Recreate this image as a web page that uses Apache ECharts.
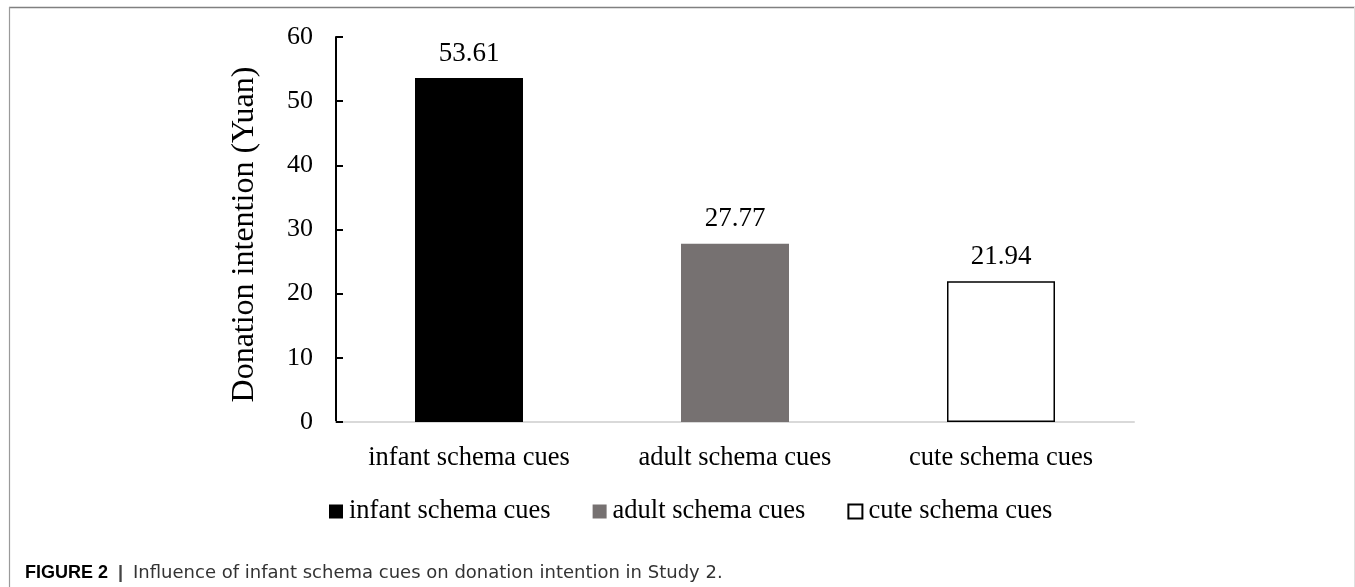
<!DOCTYPE html>
<html>
<head>
<meta charset="utf-8">
<script src="https://cdn.jsdelivr.net/npm/echarts@6/dist/echarts.min.js"></script>
<style>
html,body{margin:0;padding:0;background:#fff;}
#chart{width:1355px;height:587px;}
</style>
</head>
<body>
<div id="chart"></div>
<script>
var categories = ['infant schema cues', 'adult schema cues', 'cute schema cues'];
var seriesNames = ['infant schema cues', 'adult schema cues', 'cute schema cues'];
var values = [53.61, 27.77, 21.94];
var yTicks = {min: 0, max: 60, interval: 10};
var yTitle = 'Donation intention (Yuan)';
var captionBold = 'FIGURE 2';
var captionText = 'Influence of infant schema cues on donation intention in Study 2.';

var serif = '"Liberation Serif", "Times New Roman", serif';
var fills = ['#000000', '#767171', '#ffffff'];
var borders = [null, null, '#000000'];

var series = seriesNames.map(function (name, i) {
  var data = categories.map(function (c, j) { return j === i ? values[j] : '-'; });
  var itemStyle = {color: fills[i]};
  if (borders[i]) { itemStyle.borderColor = borders[i]; itemStyle.borderWidth = 1.5; }
  return {
    name: name,
    type: 'bar',
    data: data,
    barGap: '-100%',
    barCategoryGap: '59.4%',
    itemStyle: itemStyle,
    label: {
      show: true,
      position: 'top',
      distance: 11,
      color: '#000',
      fontFamily: serif,
      fontSize: 27,
      formatter: function (p) { return p.value.toFixed(2); }
    }
  };
});

var chart = echarts.init(document.getElementById('chart'), null, {renderer: 'canvas'});
chart.setOption({
  animation: false,
  backgroundColor: '#fff',
  grid: {left: 336, right: 221, top: 37, bottom: 165, containLabel: false},
  legend: {
    left: 329,
    top: 498,
    padding: 0,
    icon: 'rect',
    itemWidth: 14,
    itemHeight: 14,
    itemGap: 42,
    textStyle: {fontFamily: serif, fontSize: 26.5, color: '#000', padding: [0, 0, 0, 1]},
    data: seriesNames
  },
  xAxis: {
    type: 'category',
    data: categories,
    axisLine: {lineStyle: {color: '#d9d9d9', width: 2}},
    axisTick: {show: false},
    axisLabel: {color: '#000', fontFamily: serif, fontSize: 26.5, margin: 23, interval: 0, hideOverlap: false}
  },
  yAxis: {
    type: 'value',
    min: yTicks.min,
    max: yTicks.max,
    interval: yTicks.interval,
    name: yTitle,
    nameLocation: 'middle',
    nameGap: 75,
    nameTextStyle: {color: '#000', fontFamily: serif, fontSize: 32, padding: [0, 10, 0, 0]},
    axisLine: {show: true, lineStyle: {color: '#000', width: 2}},
    axisTick: {show: true, inside: true, length: 7, lineStyle: {color: '#000', width: 2}},
    axisLabel: {color: '#000', fontFamily: serif, fontSize: 26, margin: 23},
    splitLine: {show: false}
  },
  series: series,
  graphic: [
    {type: 'line', shape: {x1: 9, y1: 7.5, x2: 1355, y2: 7.5}, style: {stroke: '#808080', lineWidth: 1.5}, silent: true},
    {type: 'line', shape: {x1: 9.5, y1: 7, x2: 9.5, y2: 587}, style: {stroke: '#9a9a9a', lineWidth: 1.2}, silent: true},
    {type: 'line', shape: {x1: 1354.5, y1: 7, x2: 1354.5, y2: 587}, style: {stroke: '#e0e0e0', lineWidth: 1}, silent: true},
    {
      type: 'text',
      left: 25,
      top: 564,
      silent: true,
      style: {
        text: '{b|' + captionBold + '}{s|  |  }{n|' + captionText + '}',
        rich: {
          b: {fontFamily: '"Liberation Sans", Arial, sans-serif', fontSize: 18, fontWeight: 'bold', fill: '#000'},
          s: {fontFamily: '"Liberation Sans", Arial, sans-serif', fontSize: 18, fontWeight: 'bold', fill: '#444'},
          n: {fontFamily: '"DejaVu Sans", sans-serif', fontSize: 18, fill: '#333'}
        }
      }
    }
  ]
});
</script>
</body>
</html>
